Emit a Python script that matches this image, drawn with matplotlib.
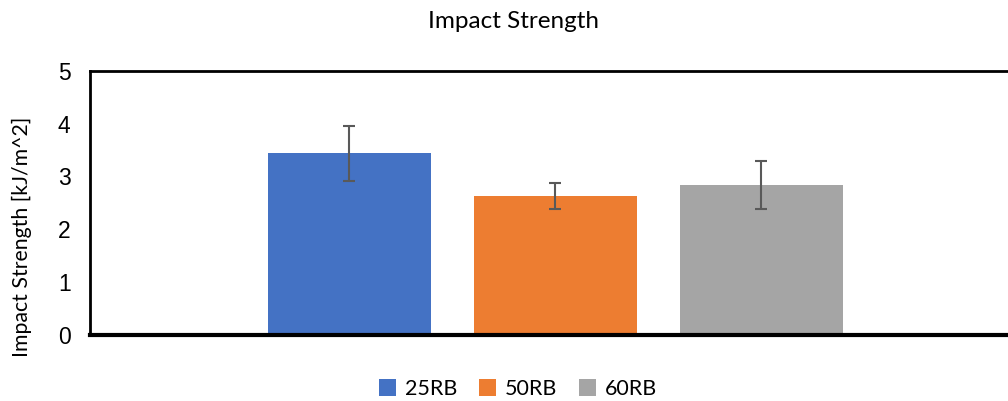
import matplotlib
matplotlib.use('Agg')
import matplotlib.pyplot as plt
import numpy as np

# datos
muestras = ['25RB', '50RB', '60RB']
resistencia = [3.44, 2.63, 2.84]
error = [0.52, 0.245, 0.45]
colores = ['#4472C4', '#ED7D31', '#A5A5A5']

fig = plt.figure(figsize=(10.08, 4.01), dpi=100)
ax = fig.add_axes([90/1008, 1-335/401, 1-90/1008, (335-70.7)/401])

x = np.arange(len(muestras))
for i in range(len(muestras)):
    ax.bar(x[i], resistencia[i], width=0.79, color=colores[i], label=muestras[i],
           yerr=error[i], capsize=4.5,
           error_kw=dict(ecolor='#595959', elinewidth=1.5, capthick=1.5))

ax.set_xlim(-1.2587, 3.1976)
ax.set_ylim(0, 5)
ax.set_yticks([0, 1, 2, 3, 4, 5])
ax.set_xticks([])
ax.tick_params(axis='y', length=0, pad=14, labelsize=16.5)
for t in ax.get_yticklabels():
    t.set_fontfamily('Liberation Sans')

for s in ['left', 'top']:
    ax.spines[s].set_linewidth(2)
    ax.spines[s].set_color('black')
ax.spines['right'].set_visible(False)
ax.spines['bottom'].set_linewidth(3)

fig.text(514/1008, 1-28.3/401, 'Impact Strength', ha='center', va='baseline',
         fontsize=17.5, family='Lato')
fig.text(22/1008, 1-237/401, 'Impact Strength [kJ/m^2]', ha='center', va='center',
         rotation=90, fontsize=15.3, family='Lato')

fig.legend(loc='center', bbox_to_anchor=(518/1008, 1-389/401), ncol=3, frameon=False,
           prop={'family': 'Lato', 'size': 15.5}, handlelength=0.8, handleheight=0.8,
           handletextpad=0.4, columnspacing=1.0)

fig.savefig('out.png', dpi=100)
